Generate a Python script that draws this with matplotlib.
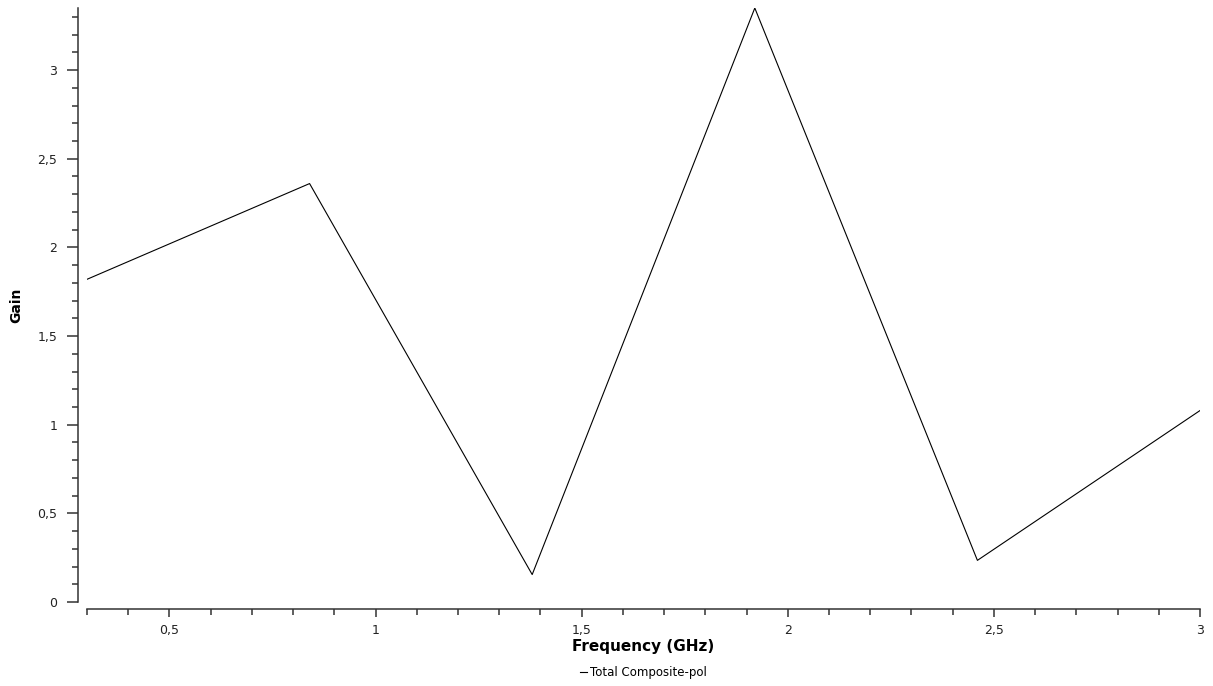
import matplotlib.pyplot as plt
from matplotlib.ticker import MultipleLocator, FuncFormatter

# frequency sweep (GHz) and total composite-pol gain
freq_ghz = [0.3, 0.84, 1.38, 1.92, 2.46, 3.0]
gain = [1.82, 2.36, 0.155, 3.35, 0.235, 1.08]

def comma_fmt(v, pos):
    s = "%g" % round(v, 3)
    return s.replace(".", ",")

fig = plt.figure(figsize=(12.13, 6.86), dpi=100)
ax = fig.add_axes([0.0717, 0.1224, 0.9176, 0.8659])

ax.plot(freq_ghz, gain, color="black", linewidth=0.8, label="Total Composite-pol")

ax.set_xlim(0.3, 3.0)
ax.set_ylim(0, 3.35)

for side in ("top", "right"):
    ax.spines[side].set_visible(False)
ax.spines["left"].set_position(("outward", 6.5))
ax.spines["bottom"].set_position(("outward", 5))
for side in ("left", "bottom"):
    ax.spines[side].set_color("#333333")
    ax.spines[side].set_linewidth(1.1)

ax.xaxis.set_major_locator(MultipleLocator(0.5))
ax.xaxis.set_minor_locator(MultipleLocator(0.1))
ax.yaxis.set_major_locator(MultipleLocator(0.5))
ax.yaxis.set_minor_locator(MultipleLocator(0.1))
ax.xaxis.set_major_formatter(FuncFormatter(comma_fmt))
ax.yaxis.set_major_formatter(FuncFormatter(comma_fmt))

ax.tick_params(axis="y", which="major", length=8, width=1.1, color="#333333",
               labelsize=9, labelcolor="#222222", pad=7)
ax.tick_params(axis="y", which="minor", length=4.5, width=1.1, color="#333333")
ax.tick_params(axis="x", which="major", length=6, width=1.1, color="#333333",
               labelsize=9, labelcolor="#222222", pad=5)
ax.tick_params(axis="x", which="minor", length=4, width=1.1, color="#333333")

ax.set_xlabel("Frequency (GHz)", fontsize=11, fontweight="bold", labelpad=1)
ax.set_ylabel("Gain", fontsize=10, fontweight="bold", labelpad=10)

ax.legend(loc="upper center", bbox_to_anchor=(0.5, -0.09), frameon=False,
          fontsize=8.5, handlelength=0.6, handletextpad=0.3)

fig.savefig("out.png", dpi=100)
